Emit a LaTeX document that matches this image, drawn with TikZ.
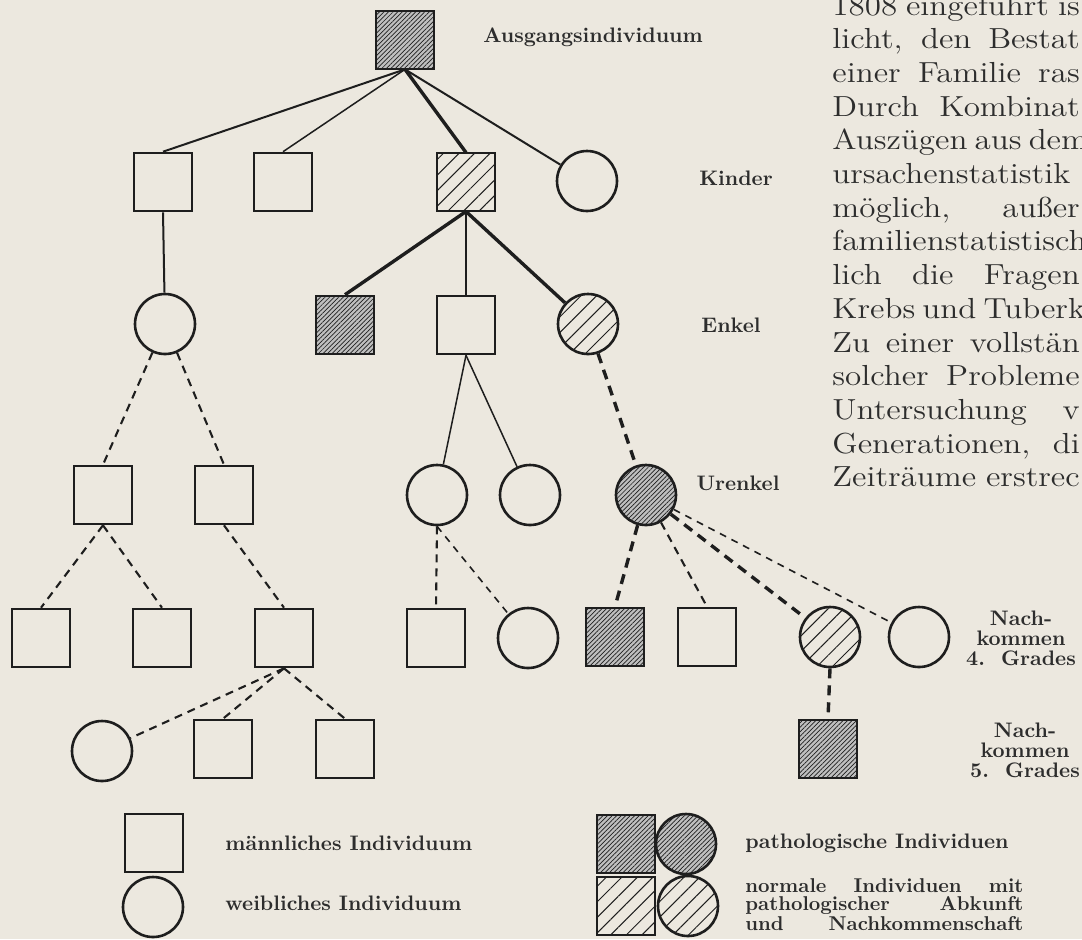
\documentclass[tikz,border=0pt]{standalone}
\usepackage{fontspec}
\usepackage{tikz}
\usetikzlibrary{patterns.meta}

\definecolor{paper}{RGB}{236,232,223}
\definecolor{ink}{RGB}{30,30,30}
\definecolor{print}{RGB}{45,45,45}

\begin{document}
\begin{tikzpicture}[x=0.5pt,y=-0.5pt,
  every edge/.style={draw=ink},
  male/.style={draw=ink,line width=1.3pt,minimum size=29pt,inner sep=0pt},
  female/.style={circle,draw=ink,line width=1.3pt,minimum size=30pt,inner sep=0pt},
  patho/.style={preaction={fill=gray!50},pattern={Lines[angle=45,distance=1.6pt,line width=0.35pt]},pattern color=ink},
  carrier/.style={pattern={Lines[angle=45,distance=5.5pt,line width=0.5pt]},pattern color=ink},
  weak/.style={line width=0.75pt},
  norm/.style={line width=1pt},
  strong/.style={line width=1.7pt},
  dsh/.style={line width=1.05pt,dash pattern=on 4pt off 3pt},
  dshweak/.style={line width=0.8pt,dash pattern=on 3.5pt off 3pt},
  dshstrong/.style={line width=1.7pt,dash pattern=on 5pt off 3.5pt},
  lbl/.style={text=print,inner sep=0pt,font=\bfseries\fontsize{10.5}{12}\selectfont},
  body/.style={text=print,inner sep=0pt,anchor=base west,font=\fontsize{14.5}{17}\selectfont}]

\useasboundingbox (0,0) rectangle (1082,939);
\fill[paper] (0,0) rectangle (1082,939);

% Ausgangsindividuum
\node[male,patho] (T) at (405,40) {};

% Kinder
\node[male]         (K1) at (163,182) {};
\node[male]         (K2) at (283,182) {};
\node[male,carrier] (K3) at (466,182) {};
\node[female]       (K4) at (587,181) {};

% Enkel
\node[female]         (E1) at (165,324) {};
\node[male,patho]     (E2) at (345,325) {};
\node[male]           (E3) at (466,325) {};
\node[female,carrier] (E4) at (588,324) {};

% Urenkel
\node[male]         (U1) at (103,495) {};
\node[male]         (U2) at (224,495) {};
\node[female]       (U3) at (437,495) {};
\node[female]       (U4) at (530,495) {};
\node[female,patho] (U5) at (646,495) {};

% Nachkommen 4. Grades
\node[male]           (N1) at (41,638) {};
\node[male]           (N2) at (162,638) {};
\node[male]           (N3) at (284,638) {};
\node[male]           (N4) at (436,638) {};
\node[female]         (N5) at (528,638) {};
\node[male,patho]     (N6) at (615,637) {};
\node[male]           (N7) at (707,637) {};
\node[female,carrier] (N8) at (830,637) {};
\node[female]         (N9) at (919,637) {};

% Nachkommen 5. Grades
\node[female]     (F1) at (102,751) {};
\node[male]       (F2) at (223,749) {};
\node[male]       (F3) at (345,749) {};
\node[male,patho] (F4) at (828,749) {};

\path[norm]
	(T.south) edge (K1.north)
	(T.south) edge (K4)
	(K1.south) edge (E1);

\path[weak]
	(T.south) edge (K2.north)
	(K3.south) edge (E3.north)
	(E3.south) edge (U3)
	(E3.south) edge (U4);

\path[strong]
	(T.south) edge (K3.north)
	(K3.south) edge (E2.north)
	(K3.south) edge (E4);

\path[dsh]
	(E1) edge (U1.north)
	(E1) edge (U2.north)
	(U1.south) edge (N1.north)
	(U1.south) edge (N2.north)
	(U2.south) edge (N3.north)
	(U3.south) edge (N4.north)
	(U5) edge (N7.north)
	(N3.south) edge (F1)
	(N3.south) edge (F2.north)
	(N3.south) edge (F3.north);

\path[dshweak]
	(U3.south) edge (N5)
	(U5) edge (N9);

\path[dshstrong]
	(E4) edge (U5)
	(U5) edge (N6.north)
	(U5) edge (N8)
	(N8.south) edge (F4.north);

% Generationen
\node[lbl] (lAusgang) at (593,37)  {Ausgangsindividuum};
\node[lbl] (lKinder)  at (736,178) {Kinder};
\node[lbl] (lEnkel)   at (731,325) {Enkel};
\node[lbl] (lUrenkel) at (738,483) {Urenkel};
\node[lbl,align=center,font=\bfseries\fontsize{10.5}{10}\selectfont] (lGrad4) at (1021,638) {Nach-\\kommen\\4.~~Grades};
\node[lbl,align=center,font=\bfseries\fontsize{10.5}{10}\selectfont] (lGrad5) at (1025,750) {Nach-\\kommen\\5.~~Grades};

% Legende
\node[male]           (Lm)  at (154,843) {};
\node[female]         (Lf)  at (153,907) {};
\node[male,patho]     (Lpm) at (626,844) {};
\node[female,patho]   (Lpf) at (686,844) {};
\node[male,carrier]   (Lcm) at (626,906) {};
\node[female,carrier] (Lcf) at (688,906) {};

\node[lbl,anchor=west] (tm) at (225,843) {männliches Individuum};
\node[lbl,anchor=west] (tf) at (225,903) {weibliches Individuum};
\node[lbl,anchor=west] (tp) at (745,843) {pathologische Individuen};
\node[lbl,anchor=west,align=left,font=\bfseries\fontsize{10}{8.9}\selectfont] (tc) at (745,905)
	{\makebox[139pt][s]{normale Individuen mit}\\
	 \makebox[139pt][s]{pathologischer Abkunft}\\
	 \makebox[139pt][s]{und Nachkommenschaft}};

% Textspalte
\foreach \txt [count=\i from 0] in {1808 eingeführt is,{licht, den Bestat},einer Familie ras,
	Durch Kombinat,Auszügen aus dem,ursachenstatistik,{möglich, außer},familienstatistisch,
	lich die Fragen,Krebs und Tuberk,Zu einer vollstän,solcher Probleme,Untersuchung v,
	{Generationen, di},Zeiträume erstrec}
	\node[body] (line\i) at (832,{15+33.7*\i}) {\scalebox{1.14}[1]{\makebox[108.5pt][s]{\txt}}};

\end{tikzpicture}
\end{document}
